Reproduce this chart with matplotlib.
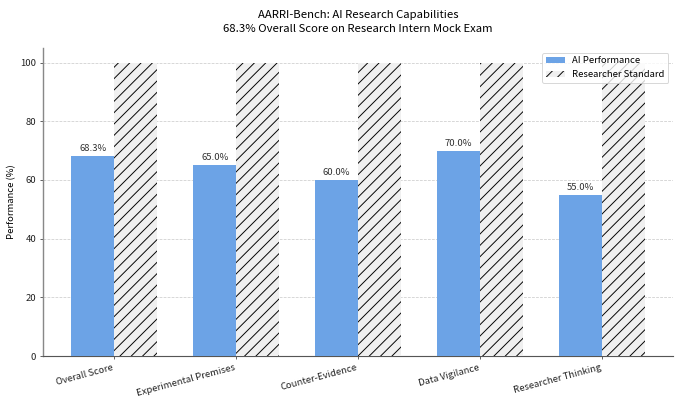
import matplotlib
matplotlib.use("Agg")
import matplotlib.pyplot as plt
import numpy as np

plt.rcParams['font.family'] = ['Noto Sans CJK SC', 'DejaVu Sans']

categories = ["Overall Score", "Experimental Premises", "Counter-Evidence", "Data Vigilance", "Researcher Thinking"]
ai_scores = [68.3, 65.0, 60.0, 70.0, 55.0]
researcher_standard = [100, 100, 100, 100, 100]

DPI = 68
fig, ax = plt.subplots(figsize=(680 / DPI, 406 / DPI), dpi=DPI)
x = np.arange(len(categories))
w = 0.35
b1 = ax.bar(x - w/2, ai_scores, w, color='#6ca3e6', label='AI Performance', zorder=3)
b2 = ax.bar(x + w/2, researcher_standard, w, color='#f0f0f0', edgecolor='black', linewidth=0,
            hatch='//', label='Researcher Standard', zorder=3)

for rect, v in zip(b1, ai_scores):
    ax.text(rect.get_x() + rect.get_width()/2, v + 1, f"{v:.1f}%", ha='center', va='bottom',
            fontsize=10, color='#333333')

ax.set_xticks(x)
ax.set_xticklabels(categories, rotation=15, ha='right', fontsize=10)
ax.set_ylim(0, 105)
ax.set_yticks([0, 20, 40, 60, 80, 100])
ax.tick_params(axis='y', labelsize=10)
ax.tick_params(colors='#333333', labelcolor='#222222')
ax.set_ylabel('Performance (%)', fontsize=10)
ax.set_title('AARRI-Bench: AI Research Capabilities\n68.3% Overall Score on Research Intern Mock Exam',
             fontsize=12, pad=17, linespacing=1.45)
ax.grid(axis='y', linestyle='--', color='#cccccc', linewidth=0.8, zorder=0)
for s in ['top', 'right']:
    ax.spines[s].set_visible(False)
ax.spines['left'].set_color('#888888')
ax.spines['left'].set_linewidth(1.5)
ax.spines['bottom'].set_color('#555555')
ax.spines['bottom'].set_linewidth(1.2)
ax.legend(loc='upper right', fontsize=10, framealpha=0.8)

fig.subplots_adjust(left=0.063, right=0.99, top=0.882, bottom=0.123)
fig.savefig('out.png', dpi=DPI)
